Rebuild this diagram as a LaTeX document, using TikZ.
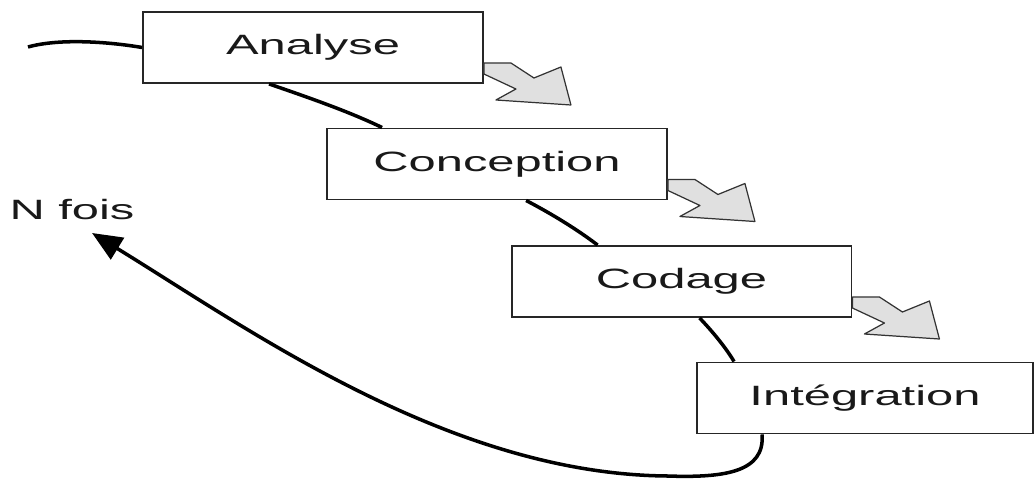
\documentclass[tikz,border=0pt]{standalone}
\usepackage{fontspec}
\setmainfont{Liberation Sans}
\usetikzlibrary{arrows.meta,calc}
\tikzset{
  box/.style={draw=black!85, line width=1.1pt, fill=white, minimum width=6.8cm, minimum height=1.42cm, inner sep=0pt, font=\fontsize{15.9}{18}\selectfont, text=black!90},
  lbl/.style={inner sep=0pt, font=\fontsize{15.9}{18}\selectfont, text=black!90},
  curve/.style={line width=2pt, black},
  garr/.pic={\draw[fill=black!12, draw=black!80, line width=0.7pt, line join=round]
     (0,15.5) -- (27,15.5) -- (50,30.5) -- (77,19.5) -- (87,57.5) -- (12,52.5) -- (32,41.5) -- (0,26.5) -- cycle;}
}
\newcommand{\wide}[1]{\scalebox{1.75}[1]{#1}}
\begin{document}
\begin{tikzpicture}[x=0.02cm,y=-0.02cm]
\useasboundingbox (0,0) rectangle (1035,479);
\coordinate (s) at (28,47);
\coordinate (tip) at (92,233);
\node[box] (a) at (313,47.5) {\wide{Analyse}};
\node[box] (b) at (497,164) {\wide{Conception}};
\node[box] (c) at (681.5,281.5) {\wide{Codage}};
\node[box, minimum width=6.72cm] (d) at (865,398) {\wide{Intégration}};
\node[lbl] (n) at (72,210) {\wide{N fois}};
% connectors
\draw[curve] (s) .. controls (60,38) and (110,42) .. (a.west);
\draw[curve] ($(a.south west)+(127,0)$) .. controls (310,98) and (350,112) .. ($(b.north west)+(56,0)$);
\draw[curve] ($(b.south west)+(200,0)$) .. controls (552,214) and (578,230) .. ($(c.north west)+(87,0)$);
\draw[curve] ($(c.south west)+(189,0)$) .. controls (713,332) and (726,348) .. ($(d.north west)+(38,0)$);
\draw[curve, -{Triangle[length=0.6cm,width=0.5cm]}] ($(d.south west)+(66,0)$) .. controls (765,472) and (725,478) .. (667,476) .. controls (450,474) and (250,330) .. (tip);
% gray block arrows
\pic at (a.east) {garr};
\pic at (b.east) {garr};
\pic at (c.east) {garr};
\end{tikzpicture}
\end{document}
